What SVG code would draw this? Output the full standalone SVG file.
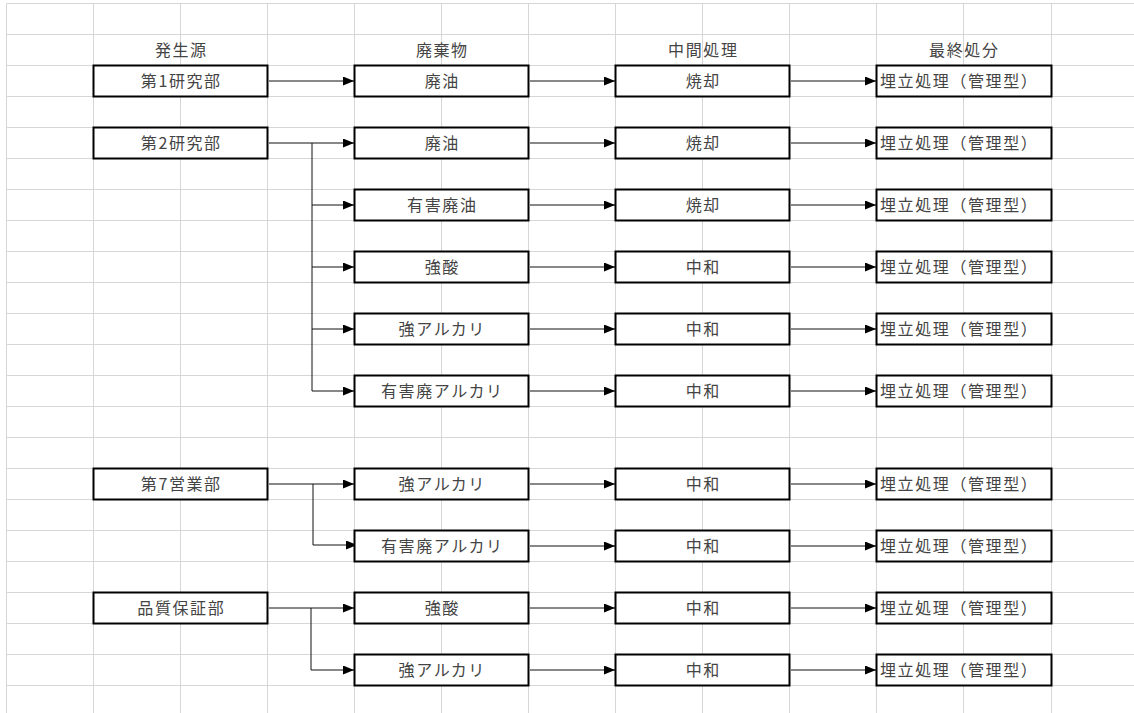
<svg xmlns="http://www.w3.org/2000/svg" width="1134" height="713" viewBox="0 0 1134 713">
<style>
.grid line{stroke:#d6d6d6;stroke-width:1}
.box{fill:#fff;stroke:#000;stroke-width:2}
.t{font-family:"Noto Sans CJK JP","Noto Sans",sans-serif;font-size:16px;fill:#444;letter-spacing:1.6px}
.c{text-anchor:middle}
.conn path{fill:none;stroke:#111;stroke-width:1}
</style>
<defs>
<marker id="ah" markerUnits="userSpaceOnUse" markerWidth="11" markerHeight="9" refX="11" refY="4.5" orient="auto">
<path d="M0,0 L11,4.5 L0,9 z" fill="#000"/>
</marker>
</defs>
<rect width="1134" height="713" fill="#fff"/>
<g class="grid">
<line x1="6.5" y1="3.5" x2="1134" y2="3.5"/><line x1="6.5" y1="34.5" x2="1134" y2="34.5"/><line x1="6.5" y1="65.5" x2="1134" y2="65.5"/><line x1="6.5" y1="96.5" x2="1134" y2="96.5"/><line x1="6.5" y1="127.5" x2="1134" y2="127.5"/><line x1="6.5" y1="158.5" x2="1134" y2="158.5"/><line x1="6.5" y1="189.5" x2="1134" y2="189.5"/><line x1="6.5" y1="220.5" x2="1134" y2="220.5"/><line x1="6.5" y1="251.5" x2="1134" y2="251.5"/><line x1="6.5" y1="282.5" x2="1134" y2="282.5"/><line x1="6.5" y1="313.5" x2="1134" y2="313.5"/><line x1="6.5" y1="344.5" x2="1134" y2="344.5"/><line x1="6.5" y1="375.5" x2="1134" y2="375.5"/><line x1="6.5" y1="406.5" x2="1134" y2="406.5"/><line x1="6.5" y1="437.5" x2="1134" y2="437.5"/><line x1="6.5" y1="468.5" x2="1134" y2="468.5"/><line x1="6.5" y1="499.5" x2="1134" y2="499.5"/><line x1="6.5" y1="530.5" x2="1134" y2="530.5"/><line x1="6.5" y1="561.5" x2="1134" y2="561.5"/><line x1="6.5" y1="592.5" x2="1134" y2="592.5"/><line x1="6.5" y1="623.5" x2="1134" y2="623.5"/><line x1="6.5" y1="654.5" x2="1134" y2="654.5"/><line x1="6.5" y1="685.5" x2="1134" y2="685.5"/>
<line x1="6.5" y1="3.5" x2="6.5" y2="713"/><line x1="93.5" y1="3.5" x2="93.5" y2="713"/><line x1="180.5" y1="3.5" x2="180.5" y2="713"/><line x1="267.5" y1="3.5" x2="267.5" y2="713"/><line x1="354.5" y1="3.5" x2="354.5" y2="713"/><line x1="441.5" y1="3.5" x2="441.5" y2="713"/><line x1="528.5" y1="3.5" x2="528.5" y2="713"/><line x1="615.5" y1="3.5" x2="615.5" y2="713"/><line x1="702.5" y1="3.5" x2="702.5" y2="713"/><line x1="789.5" y1="3.5" x2="789.5" y2="713"/><line x1="876.5" y1="3.5" x2="876.5" y2="713"/><line x1="963.5" y1="3.5" x2="963.5" y2="713"/><line x1="1051.5" y1="3.5" x2="1051.5" y2="713"/>
</g>
<g id="headers">
<text class="t c" x="181.3" y="55.5">発生源</text>
<text class="t c" x="442.3" y="55.5">廃棄物</text>
<text class="t c" x="703.3" y="55.5">中間処理</text>
<text class="t c" x="964.3" y="55.5">最終処分</text>
</g>
<g class="conn" id="connectors">
<path d="M269,81 H354" marker-end="url(#ah)"/>
<path d="M530,81 H615" marker-end="url(#ah)"/>
<path d="M791,81 H876" marker-end="url(#ah)"/>
<path d="M269,143 H354" marker-end="url(#ah)"/>
<path d="M312,143 V391"/>
<path d="M312,205 H354" marker-end="url(#ah)"/>
<path d="M312,267 H354" marker-end="url(#ah)"/>
<path d="M312,329 H354" marker-end="url(#ah)"/>
<path d="M312,391 H354" marker-end="url(#ah)"/>
<path d="M530,143 H615" marker-end="url(#ah)"/>
<path d="M530,205 H615" marker-end="url(#ah)"/>
<path d="M530,267 H615" marker-end="url(#ah)"/>
<path d="M530,329 H615" marker-end="url(#ah)"/>
<path d="M530,391 H615" marker-end="url(#ah)"/>
<path d="M791,143 H876" marker-end="url(#ah)"/>
<path d="M791,205 H876" marker-end="url(#ah)"/>
<path d="M791,267 H876" marker-end="url(#ah)"/>
<path d="M791,329 H876" marker-end="url(#ah)"/>
<path d="M791,391 H876" marker-end="url(#ah)"/>
<path d="M269,484 H354" marker-end="url(#ah)"/>
<path d="M313,484 V545 H357" marker-end="url(#ah)"/>
<path d="M530,484 H615" marker-end="url(#ah)"/>
<path d="M530,546 H615" marker-end="url(#ah)"/>
<path d="M791,484 H876" marker-end="url(#ah)"/>
<path d="M791,546 H876" marker-end="url(#ah)"/>
<path d="M269,608 H354" marker-end="url(#ah)"/>
<path d="M311,608 V670 H354" marker-end="url(#ah)"/>
<path d="M530,608 H615" marker-end="url(#ah)"/>
<path d="M530,670 H615" marker-end="url(#ah)"/>
<path d="M791,608 H876" marker-end="url(#ah)"/>
<path d="M791,670 H876" marker-end="url(#ah)"/>
</g>
<g id="src1"><rect class="box" x="93.5" y="65.5" width="174" height="31"/><text class="t c" x="181.3" y="86.5">第1研究部</text></g>
<g id="src2"><rect class="box" x="93.5" y="127.5" width="174" height="31"/><text class="t c" x="181.3" y="148.5">第2研究部</text></g>
<g id="src7"><rect class="box" x="93.5" y="468.5" width="174" height="31"/><text class="t c" x="181.3" y="489.5">第7営業部</text></g>
<g id="srcqa"><rect class="box" x="93.5" y="592.5" width="174" height="31"/><text class="t c" x="181.3" y="613.5">品質保証部</text></g>

<g id="w1"><rect class="box" x="354.5" y="65.5" width="174" height="31"/><text class="t c" x="442.3" y="86.5">廃油</text></g>
<g id="w2"><rect class="box" x="354.5" y="127.5" width="174" height="31"/><text class="t c" x="442.3" y="148.5">廃油</text></g>
<g id="w3"><rect class="box" x="354.5" y="189.5" width="174" height="31"/><text class="t c" x="442.3" y="210.5">有害廃油</text></g>
<g id="w4"><rect class="box" x="354.5" y="251.5" width="174" height="31"/><text class="t c" x="442.3" y="272.5">強酸</text></g>
<g id="w5"><rect class="box" x="354.5" y="313.5" width="174" height="31"/><text class="t c" x="442.3" y="334.5">強アルカリ</text></g>
<g id="w6"><rect class="box" x="354.5" y="375.5" width="174" height="31"/><text class="t c" x="442.3" y="396.5">有害廃アルカリ</text></g>
<g id="w7"><rect class="box" x="354.5" y="468.5" width="174" height="31"/><text class="t c" x="442.3" y="489.5">強アルカリ</text></g>
<g id="w8"><rect class="box" x="354.5" y="530.5" width="174" height="31"/><text class="t c" x="442.3" y="551.5">有害廃アルカリ</text></g>
<g id="w9"><rect class="box" x="354.5" y="592.5" width="174" height="31"/><text class="t c" x="442.3" y="613.5">強酸</text></g>
<g id="w10"><rect class="box" x="354.5" y="654.5" width="174" height="31"/><text class="t c" x="442.3" y="675.5">強アルカリ</text></g>

<g id="p1"><rect class="box" x="615.5" y="65.5" width="174" height="31"/><text class="t c" x="703.3" y="86.5">焼却</text></g>
<g id="p2"><rect class="box" x="615.5" y="127.5" width="174" height="31"/><text class="t c" x="703.3" y="148.5">焼却</text></g>
<g id="p3"><rect class="box" x="615.5" y="189.5" width="174" height="31"/><text class="t c" x="703.3" y="210.5">焼却</text></g>
<g id="p4"><rect class="box" x="615.5" y="251.5" width="174" height="31"/><text class="t c" x="703.3" y="272.5">中和</text></g>
<g id="p5"><rect class="box" x="615.5" y="313.5" width="174" height="31"/><text class="t c" x="703.3" y="334.5">中和</text></g>
<g id="p6"><rect class="box" x="615.5" y="375.5" width="174" height="31"/><text class="t c" x="703.3" y="396.5">中和</text></g>
<g id="p7"><rect class="box" x="615.5" y="468.5" width="174" height="31"/><text class="t c" x="703.3" y="489.5">中和</text></g>
<g id="p8"><rect class="box" x="615.5" y="530.5" width="174" height="31"/><text class="t c" x="703.3" y="551.5">中和</text></g>
<g id="p9"><rect class="box" x="615.5" y="592.5" width="174" height="31"/><text class="t c" x="703.3" y="613.5">中和</text></g>
<g id="p10"><rect class="box" x="615.5" y="654.5" width="174" height="31"/><text class="t c" x="703.3" y="675.5">中和</text></g>

<g id="f1"><rect class="box" x="876.5" y="65.5" width="175" height="31"/><text class="t" x="880" y="86.5">埋立処理（管理型）</text></g>
<g id="f2"><rect class="box" x="876.5" y="127.5" width="175" height="31"/><text class="t" x="880" y="148.5">埋立処理（管理型）</text></g>
<g id="f3"><rect class="box" x="876.5" y="189.5" width="175" height="31"/><text class="t" x="880" y="210.5">埋立処理（管理型）</text></g>
<g id="f4"><rect class="box" x="876.5" y="251.5" width="175" height="31"/><text class="t" x="880" y="272.5">埋立処理（管理型）</text></g>
<g id="f5"><rect class="box" x="876.5" y="313.5" width="175" height="31"/><text class="t" x="880" y="334.5">埋立処理（管理型）</text></g>
<g id="f6"><rect class="box" x="876.5" y="375.5" width="175" height="31"/><text class="t" x="880" y="396.5">埋立処理（管理型）</text></g>
<g id="f7"><rect class="box" x="876.5" y="468.5" width="175" height="31"/><text class="t" x="880" y="489.5">埋立処理（管理型）</text></g>
<g id="f8"><rect class="box" x="876.5" y="530.5" width="175" height="31"/><text class="t" x="880" y="551.5">埋立処理（管理型）</text></g>
<g id="f9"><rect class="box" x="876.5" y="592.5" width="175" height="31"/><text class="t" x="880" y="613.5">埋立処理（管理型）</text></g>
<g id="f10"><rect class="box" x="876.5" y="654.5" width="175" height="31"/><text class="t" x="880" y="675.5">埋立処理（管理型）</text></g>
</svg>
